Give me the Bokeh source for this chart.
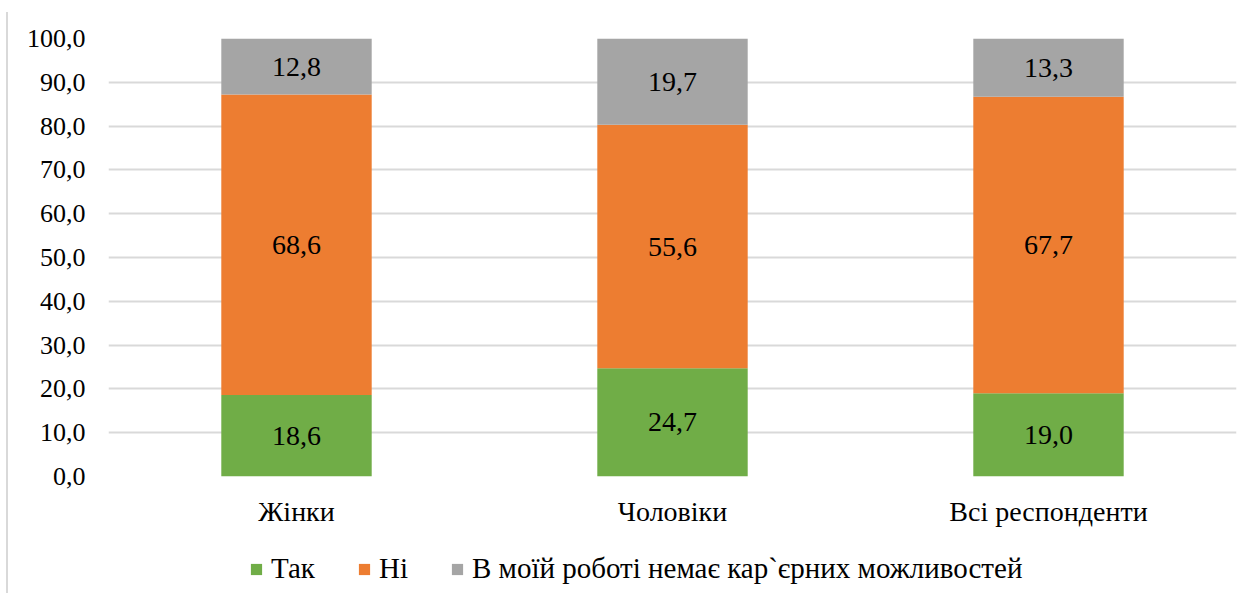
from bokeh.plotting import figure
from bokeh.layouts import column, row
from bokeh.models import ColumnDataSource, CustomJSTickFormatter, Legend, LegendItem, FixedTicker, Div
from bokeh.core.properties import value
from bokeh.embed import file_html
from bokeh.resources import INLINE

categories = ["Жінки", "Чоловіки", "Всі респонденти"]
series_names = ["Так", "Ні", "В моїй роботі немає кар`єрних можливостей"]
tak = [18.6, 24.7, 19.0]
ni = [68.6, 55.6, 67.7]
nemaie = [12.8, 19.7, 13.3]
colors = ["#70AD47", "#ED7D31", "#A5A5A5"]
y_ticks = [0, 10, 20, 30, 40, 50, 60, 70, 80, 90, 100]

FONT = "Liberation Serif"

src = ColumnDataSource(data=dict(cat=categories, s0=tak, s1=ni, s2=nemaie))

p = figure(x_range=categories, y_range=(0, 100), width=1240, height=530,
           output_backend="svg", toolbar_location=None,
           min_border_left=100, min_border_right=12, min_border_top=38, min_border_bottom=54)

renderers = p.vbar_stack(["s0", "s1", "s2"], x="cat", width=0.4, source=src,
                         color=colors, line_color=None)

all_series = [tak, ni, nemaie]
for i, vals in enumerate(all_series):
    bottoms = [sum(col[j] for col in all_series[:i]) for j in range(len(categories))]
    mids = [b + v / 2 for b, v in zip(bottoms, vals)]
    txt = [f"{v:.1f}".replace(".", ",") for v in vals]
    ls = ColumnDataSource(data=dict(cat=categories, y=mids, t=txt))
    p.text(x="cat", y="y", text="t", source=ls, text_align="center", text_baseline="middle",
           text_font=value(FONT), text_font_size="28px", text_color="#000000")

p.yaxis.ticker = FixedTicker(ticks=y_ticks)
p.yaxis.formatter = CustomJSTickFormatter(code="return tick.toFixed(1).replace('.', ',');")
p.yaxis.axis_line_color = None
p.yaxis.major_tick_line_color = None
p.yaxis.minor_tick_line_color = None
p.yaxis.major_label_text_font = FONT
p.yaxis.major_label_text_font_size = "26px"
p.yaxis.major_label_text_color = "#000000"
p.yaxis.major_label_standoff = 17

p.xaxis.axis_line_color = None
p.xaxis.major_tick_line_color = None
p.xaxis.major_label_text_font = FONT
p.xaxis.major_label_text_font_size = "28px"
p.xaxis.major_label_text_color = "#000000"
p.xaxis.major_label_standoff = 13

p.xgrid.grid_line_color = None
p.ygrid.grid_line_color = "#D9D9D9"
p.ygrid.grid_line_width = 2
p.outline_line_color = None

# legend panel: same stacked series drawn out of view, used only as legend keys
lg = figure(width=1240, height=63, x_range=categories, y_range=(1000, 1001),
            x_axis_type=None, y_axis_type=None,
            output_backend="svg", toolbar_location=None,
            min_border_left=0, min_border_right=0, min_border_top=0, min_border_bottom=0)
lg.grid.grid_line_color = None
lg.outline_line_color = None
keys = lg.vbar_stack(["s0", "s1", "s2"], x="cat", width=0.4, source=src,
                     color=colors, line_color=None)
legend = Legend(items=[LegendItem(label=n, renderers=[r]) for n, r in zip(series_names, keys)],
                orientation="horizontal", location=(141, 8),
                label_text_font=FONT, label_text_font_size="29px", label_text_color="#000000",
                glyph_width=14, glyph_height=14, label_standoff=8, spacing=42,
                border_line_color=None, background_fill_alpha=0, padding=0, margin=0)
lg.add_layout(legend, "center")

edge = Div(text="", width=8, height=581, margin=(12, 0, 0, 0),
           styles={"border-right": "2px solid #D9D9D9", "box-sizing": "border-box"})

layout = row(edge, column(p, lg, spacing=0), spacing=0)

open("out.html", "w").write(file_html(layout, INLINE))
